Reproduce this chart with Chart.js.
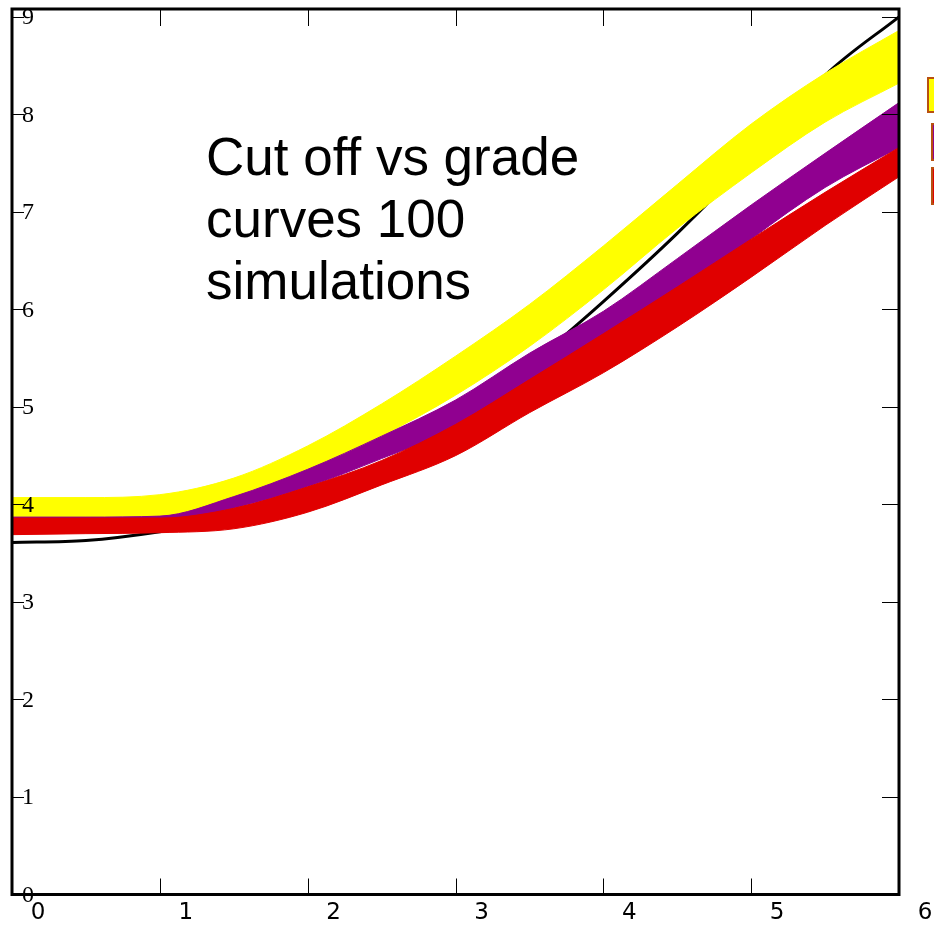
<!DOCTYPE html>
<html>
<head>
<meta charset="utf-8">
<script src="https://cdn.jsdelivr.net/npm/chart.js@4"></script>
<style>
  body { margin: 0; background: #fff; }
  #wrap { position: relative; width: 934px; height: 925px; overflow: hidden; }
  #note {
    position: absolute; left: 206px; top: 126px;
    font-family: "Liberation Sans", Arial, sans-serif;
    font-size: 53px; line-height: 62px; color: #000;
  }
</style>
</head>
<body>
<div id="wrap">
  <canvas id="graphCanvas" width="934" height="925"></canvas>
  <div id="note">Cut off vs grade<br>curves 100<br>simulations</div>
</div>
<script>
// cut off values (x axis)
var cutoff = [0, 0.5, 1, 1.5, 2, 2.5, 3, 3.5, 4, 4.5, 5, 5.5, 6];

// envelope of the 100 simulated curves, per group
var yellowTop    = [4.07, 4.07, 4.10, 4.27, 4.60, 5.03, 5.52, 6.05, 6.65, 7.28, 7.90, 8.42, 8.86];
var yellowBottom = [3.87, 3.87, 3.88, 4.05, 4.33, 4.70, 5.12, 5.62, 6.20, 6.83, 7.40, 7.92, 8.32];
var purpleTop    = [3.87, 3.87, 3.88, 4.08, 4.36, 4.70, 5.07, 5.55, 5.98, 6.52, 7.07, 7.60, 8.12];
var purpleBottom = [3.80, 3.80, 3.82, 3.96, 4.18, 4.47, 4.78, 5.24, 5.62, 6.12, 6.72, 7.25, 7.66];
var redTop       = [3.86, 3.86, 3.86, 3.96, 4.18, 4.45, 4.82, 5.28, 5.75, 6.23, 6.72, 7.20, 7.66];
var redBottom    = [3.69, 3.70, 3.71, 3.75, 3.92, 4.20, 4.50, 4.94, 5.35, 5.82, 6.33, 6.86, 7.36];

// observed curve
var observed     = [3.61, 3.63, 3.72, 3.86, 4.05, 4.35, 4.76, 5.42, 6.08, 6.78, 7.55, 8.40, 9.00];

var xTicks = [0, 1, 2, 3, 4, 5, 6];
var yTicks = [0, 1, 2, 3, 4, 5, 6, 7, 8, 9];

var YELLOW = "#ffff00";
var PURPLE = "#900090";
var RED = "#e00000";

function pts(vals) {
    var out = [];
    for (var i in vals) {
        out.push({ x: cutoff[i], y: vals[i] });
    }
    return out;
}

function band(vals, color, fill, order) {
    return {
        data: pts(vals),
        borderColor: color,
        backgroundColor: color,
        borderWidth: 1,
        fill: fill,
        order: order,
        pointRadius: 0,
        cubicInterpolationMode: "monotone"
    };
}

// frame, inward ticks, tick labels and the clipped legend
var framePlugin = {
    id: "frame",
    afterDraw: function (chart) {
        var ctx = chart.ctx;
        var a = chart.chartArea;
        var xs = chart.scales.x;
        var ys = chart.scales.y;
        ctx.save();
        ctx.strokeStyle = "#000";
        ctx.lineWidth = 1;
        ctx.beginPath();
        xTicks.forEach(function (t) {
            var px = Math.round(xs.getPixelForValue(t)) + 0.5;
            ctx.moveTo(px, a.bottom); ctx.lineTo(px, a.bottom - 16);
            ctx.moveTo(px, a.top); ctx.lineTo(px, a.top + 17);
        });
        yTicks.forEach(function (t) {
            var py = Math.round(ys.getPixelForValue(t)) + 0.5;
            ctx.moveTo(a.left, py); ctx.lineTo(a.left + 12, py);
            ctx.moveTo(a.right, py); ctx.lineTo(a.right - 17, py);
        });
        ctx.stroke();

        ctx.lineWidth = 3;
        ctx.strokeRect(a.left, a.top, a.right - a.left, a.bottom - a.top);

        ctx.fillStyle = "#000";
        ctx.font = "24px 'Liberation Serif', serif";
        ctx.textAlign = "left";
        ctx.textBaseline = "middle";
        yTicks.forEach(function (t) {
            ctx.fillText(String(t), a.left + 10, ys.getPixelForValue(t) + 1);
        });
        ctx.font = "23px 'DejaVu Sans', sans-serif";
        ctx.textAlign = "center";
        xTicks.forEach(function (t) {
            ctx.fillText(String(t), xs.getPixelForValue(t) + 26, a.bottom + 19);
        });

        // legend, mostly outside the picture
        ctx.lineWidth = 2;
        ctx.strokeStyle = "#b85010";
        ctx.fillStyle = YELLOW;
        ctx.fillRect(928, 78, 30, 34);
        ctx.strokeRect(928, 78, 30, 34);
        ctx.fillStyle = PURPLE;
        ctx.fillRect(932, 124, 30, 36);
        ctx.strokeRect(932, 124, 30, 36);
        ctx.fillStyle = RED;
        ctx.fillRect(932, 168, 30, 36);
        ctx.strokeRect(932, 168, 30, 36);
        ctx.restore();
    }
};

var chartdata = {
    datasets: [
        band(redTop, RED, "+1", 1),
        band(redBottom, RED, false, 1),
        band(purpleTop, PURPLE, "+1", 2),
        band(purpleBottom, PURPLE, false, 2),
        band(yellowTop, YELLOW, "+1", 3),
        band(yellowBottom, YELLOW, false, 3),
        {
            data: pts(observed),
            borderColor: "#000",
            borderWidth: 3,
            fill: false,
            order: 4,
            pointRadius: 0,
            cubicInterpolationMode: "monotone"
        }
    ]
};

new Chart(document.getElementById("graphCanvas"), {
    type: "line",
    data: chartdata,
    plugins: [framePlugin],
    options: {
        responsive: false,
        animation: false,
        layout: { padding: { left: 12, top: 9, right: 35, bottom: 30.5 } },
        plugins: { legend: { display: false }, tooltip: { enabled: false } },
        scales: {
            x: { type: "linear", min: 0, max: 6, display: false, ticks: { stepSize: 1 } },
            y: { type: "linear", min: 0, max: 9.08, display: false, ticks: { stepSize: 1, includeBounds: false } }
        }
    }
});
</script>
</body>
</html>
